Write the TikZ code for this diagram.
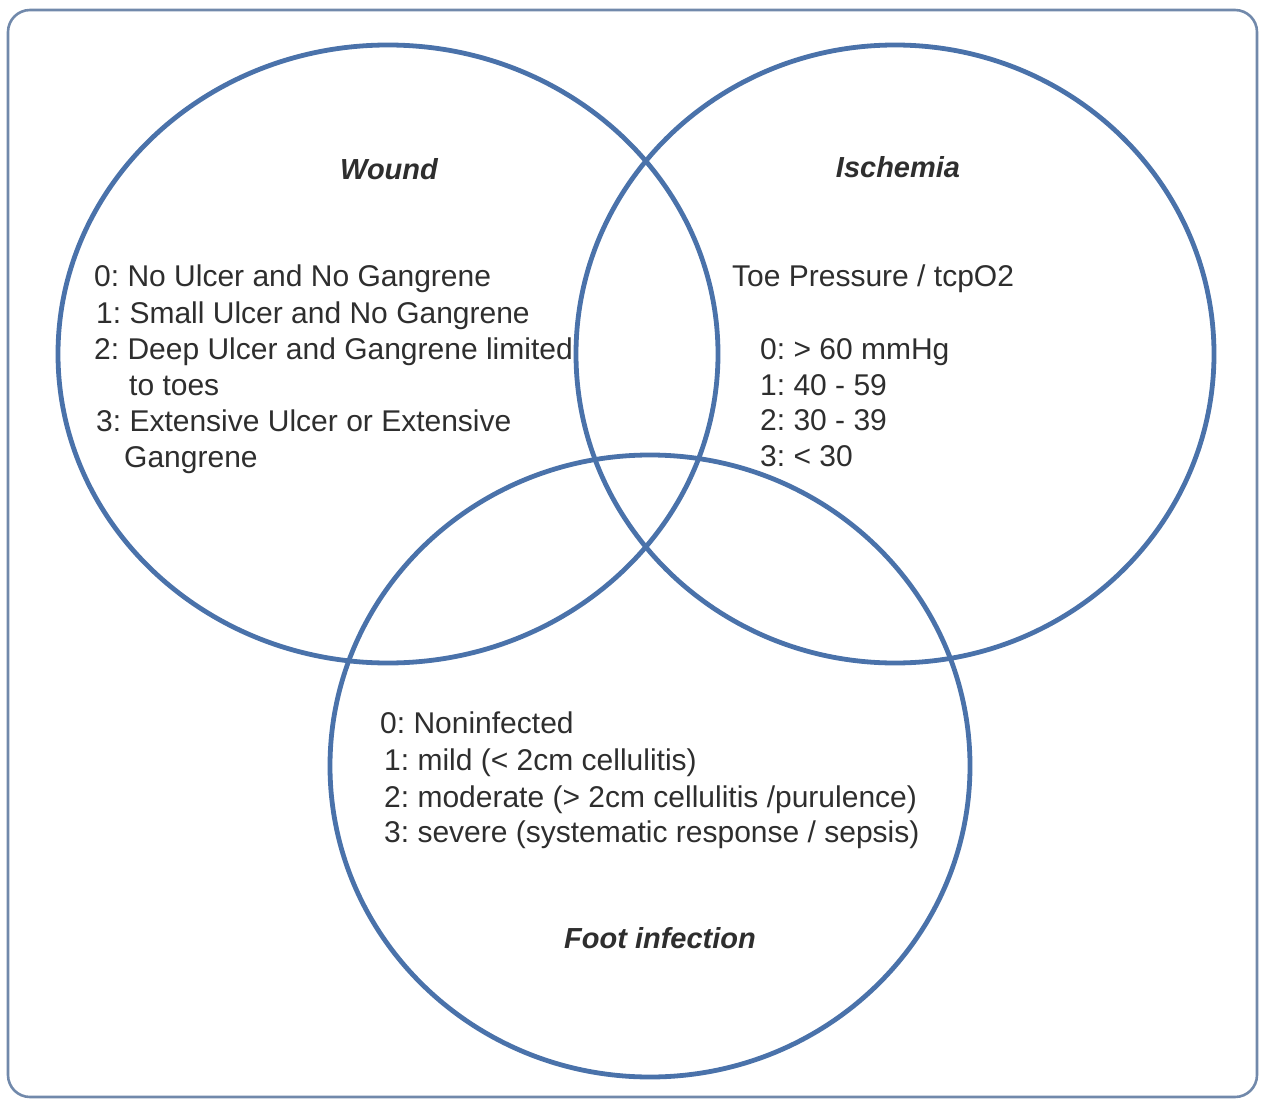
\documentclass[tikz,border=0pt]{standalone}
\usepackage{fontspec}
\setmainfont{Liberation Sans}
\frenchspacing
\definecolor{ringblue}{HTML}{4A72AA}
\definecolor{framegrey}{HTML}{7189AB}
\definecolor{txt}{HTML}{2E2E2E}
\begin{document}
\begin{tikzpicture}[x=1pt,y=-1pt,
  ring/.style={draw=ringblue,line width=4.8pt},
  item/.style={anchor=base west,inner sep=0pt,text=txt,font=\fontsize{30}{34}\selectfont},
  heading/.style={anchor=base,inner sep=0pt,text=txt,font=\fontsize{29}{34}\selectfont\bfseries\itshape}]
\useasboundingbox (0,0) rectangle (1261,1102);
% frame
\draw[framegrey,line width=2.6pt,rounded corners=22pt] (8,10) rectangle (1257,1097);
% three sets
\draw[ring] (388,354) ellipse [x radius=330,y radius=309];
\draw[ring] (895,354) ellipse [x radius=319,y radius=309];
\draw[ring] (650,766) ellipse [x radius=320,y radius=311];
% Wound
\node[heading] (wt) at (389,180) {Wound};
\node[item] (w0) at (94,287) {0: No Ulcer and No Gangrene};
\node[item] (w1) at (96,323) {1: Small Ulcer and No Gangrene};
\node[item] (w2) at (94,359) {2: Deep Ulcer and Gangrene limited};
\node[item] (w2b) at (129,395) {to toes};
\node[item] (w3) at (96,431) {3: Extensive Ulcer or Extensive};
\node[item] (w3b) at (124,467) {Gangrene};
% Ischemia
\node[heading] (it) at (898,178) {Ischemia};
\node[item] (i0) at (732,286) {Toe Pressure / tcpO2};
\node[item] (i1) at (760,359) {0: > 60 mmHg};
\node[item] (i2) at (760,395) {1: 40 - 59};
\node[item] (i3) at (760,430) {2: 30 - 39};
\node[item] (i4) at (760,466) {3: < 30};
% Foot infection
\node[item] (f0) at (380,733) {0: Noninfected};
\node[item] (f1) at (384,770) {1: mild (< 2cm cellulitis)};
\node[item] (f2) at (384,807) {2: moderate (> 2cm cellulitis /purulence)};
\node[item] (f3) at (384,842) {3: severe (systematic response / sepsis)};
\node[heading] (ft) at (660,948) {Foot infection};
\end{tikzpicture}
\end{document}
